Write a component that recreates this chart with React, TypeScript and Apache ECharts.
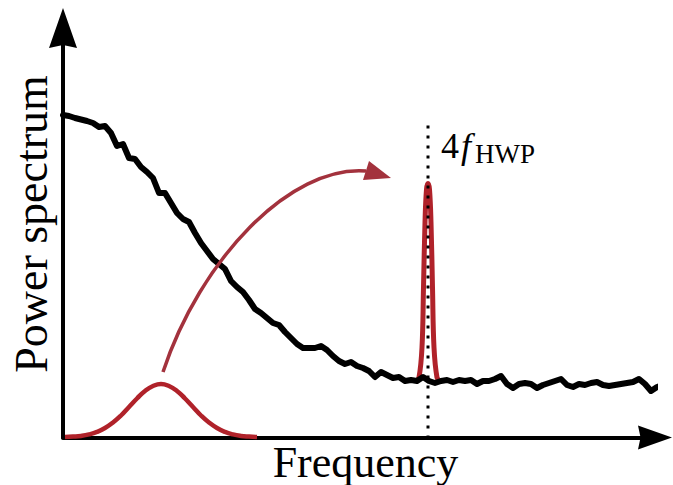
import React, { useEffect, useRef } from "react";
import * as echarts from "echarts";

// Noise spectrum, sampled every NOISE_STEP frequency units from 0
const NOISE_STEP = 6;
const noisePower = [
  322.5, 321.5, 319.5, 318, 316.5, 314.5, 310.5, 311.5, 304.5, 291.5,
  293.5, 279.5, 278.5, 270.5, 265.5, 259.5, 244.5, 244.5, 234.5, 224.5,
  218.5, 215.5, 204.5, 194.5, 186.5, 178.5, 173.5, 168.5, 156.5, 150.5,
  145.5, 137.5, 128.5, 124.5, 119.5, 114.5, 112.5, 105.5, 99.5, 93.5,
  89.5, 89.5, 89.5, 91.5, 87.5, 81.5, 76.5, 73.5, 75.5, 71.5,
  69.5, 66.5, 60.5, 65.5, 62.5, 59.5, 60.5, 56.5, 57.5, 56.5,
  60.5, 56.5, 54.5, 56.5, 57.5, 55.5, 57.5, 56.5, 57.5, 53.5,
  56.5, 56.5, 58.5, 61.5, 53.5, 49.5, 53.5, 54.5, 53.5, 49.5,
  52.5, 54.5, 56.5, 58.5, 52.5, 50.5, 53.5, 52.5, 54.5, 55.5,
  52.5, 51.5, 52.5, 53.5, 54.5, 55.5, 58.5, 53.5, 46.5, 50.5,
  52.5, 48.5,
];

// Broad low-frequency bump
const bumpFreq = [
  2, 10, 18, 26, 34, 42, 50, 58, 66, 74, 82, 90, 98,
  106, 114, 122, 130, 138, 146, 154, 162, 170, 178, 186, 194,
];
const bumpPower = [
  0.5, 0.9, 1.6, 3.1, 5.6, 9.5, 15, 22, 30.5, 39, 46.5, 51.5, 53.5,
  51.5, 46.5, 39, 30.5, 22, 15, 9.5, 5.6, 3.1, 1.6, 0.9, 0.5,
];

// Narrow line at the modulation frequency
const HWP_FREQ = 365;
const peakFreq = [353, 356, 359, 360.5, 362, 363.5, 365, 366.5, 368, 369.5, 371, 374, 377];
const peakPower = [56, 60, 90, 150, 215, 248, 254, 248, 215, 150, 90, 60, 56];
const markerTop = 312;

const X_MAX = 592;
const Y_MAX = 409.5;

const RED = "#B0222A";
const ARROW_RED = "#A3323D";
const SERIF = "'Liberation Serif', 'Times New Roman', serif";

export default function App() {
  const ref = useRef<HTMLDivElement>(null);

  useEffect(() => {
    if (!ref.current) return;
    const chart = echarts.init(ref.current, undefined, { renderer: "svg" });

    const noiseData = noisePower.map((p, i) => [i * NOISE_STEP, p]);
    const bumpData = bumpFreq.map((f, i) => [f, bumpPower[i]]);
    const peakData = peakFreq.map((f, i) => [f, peakPower[i]]);

    const arrowHead = "path://M14,0 L28,40 L14,37 L0,40 Z";

    chart.setOption({
      animation: false,
      backgroundColor: "#ffffff",
      grid: { left: 63, right: 18, top: 28, bottom: 47.5, containLabel: false },
      xAxis: {
        type: "value",
        min: 0,
        max: X_MAX,
        axisLine: {
          show: true,
          symbol: ["none", arrowHead],
          symbolSize: [29, 34],
          lineStyle: { color: "#000", width: 4 },
        },
        axisTick: { show: false },
        axisLabel: { show: false },
        splitLine: { show: false },
      },
      yAxis: {
        type: "value",
        min: 0,
        max: Y_MAX,
        axisLine: {
          show: true,
          symbol: ["none", arrowHead],
          symbolSize: [28, 40],
          lineStyle: { color: "#000", width: 4 },
        },
        axisTick: { show: false },
        axisLabel: { show: false },
        splitLine: { show: false },
      },
      series: [
        {
          name: "bump",
          type: "line",
          data: bumpData,
          smooth: true,
          showSymbol: false,
          lineStyle: { color: RED, width: 4.5 },
          z: 2,
        },
        {
          name: "peak",
          type: "line",
          data: peakData,
          smooth: 0.4,
          showSymbol: false,
          lineStyle: { color: RED, width: 5 },
          z: 3,
        },
        {
          name: "noise",
          type: "line",
          data: noiseData,
          clip: false,
          showSymbol: false,
          lineStyle: { color: "#000", width: 6, join: "round", cap: "round" },
          z: 4,
        },
        {
          name: "marker",
          type: "line",
          data: [
            [HWP_FREQ, markerTop],
            [HWP_FREQ, 0],
          ],
          showSymbol: false,
          lineStyle: { color: "#000", width: 3, type: [3, 7], cap: "butt" },
          z: 5,
        },
      ],
      graphic: [
        {
          type: "bezierCurve",
          shape: {
            x1: 163, y1: 372,
            cpx1: 200, cpy1: 260,
            cpx2: 290, cpy2: 165,
            x2: 366, y2: 171,
          },
          style: { stroke: ARROW_RED, lineWidth: 3.5, fill: "none" },
          z: 10,
        },
        {
          type: "polygon",
          shape: { points: [[369, 161], [391, 178], [363, 180]] },
          style: { fill: ARROW_RED },
          z: 10,
        },
        {
          type: "text",
          x: 365.5,
          y: 462,
          style: {
            text: "Frequency",
            font: `44px ${SERIF}`,
            fill: "#000",
            align: "center",
            verticalAlign: "middle",
          },
          z: 10,
        },
        {
          type: "text",
          x: 31,
          y: 224,
          rotation: Math.PI / 2,
          style: {
            text: "Power spectrum",
            font: `46px ${SERIF}`,
            fill: "#000",
            align: "center",
            verticalAlign: "middle",
          },
          z: 10,
        },
        {
          type: "text",
          x: 441,
          y: 146,
          style: {
            text: "4",
            font: `36px ${SERIF}`,
            fill: "#000",
            align: "left",
            verticalAlign: "middle",
          },
          z: 10,
        },
        {
          type: "text",
          x: 461,
          y: 146,
          style: {
            text: "f",
            font: `italic 36px ${SERIF}`,
            fill: "#000",
            align: "left",
            verticalAlign: "middle",
          },
          z: 10,
        },
        {
          type: "text",
          x: 475,
          y: 154,
          style: {
            text: "HWP",
            font: `27px ${SERIF}`,
            fill: "#000",
            align: "left",
            verticalAlign: "middle",
          },
          z: 10,
        },
      ],
    });

    return () => chart.dispose();
  }, []);

  return (
    <div
      ref={ref}
      style={{ position: "fixed", left: 0, top: 0, width: 673, height: 485 }}
    />
  );
}
